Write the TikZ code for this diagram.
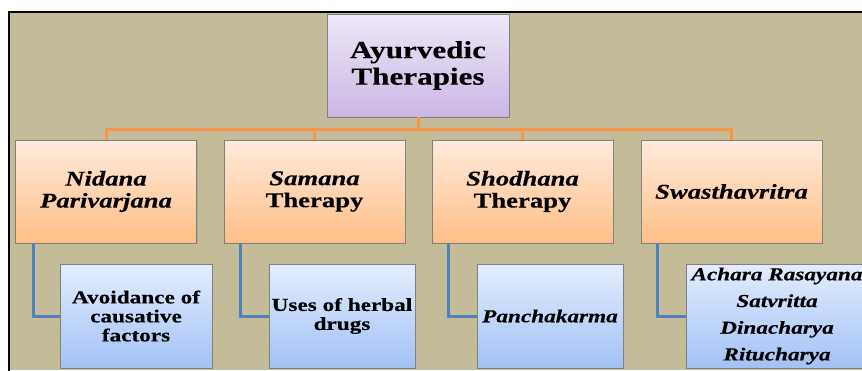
\documentclass[tikz,border=0pt]{standalone}
\usepackage{fontspec}
\setmainfont{Liberation Serif}[FakeStretch=1.27, FakeBold=0.3]
\usetikzlibrary{shadows}
\definecolor{bgtan}{RGB}{196,188,152}
\definecolor{lavtop}{RGB}{238,232,248}
\definecolor{lavbot}{RGB}{202,182,228}
\definecolor{peachtop}{RGB}{255,234,220}
\definecolor{peachbot}{RGB}{255,190,134}
\definecolor{bluetop}{RGB}{228,237,253}
\definecolor{bluebot}{RGB}{162,194,246}
\definecolor{orangeline}{RGB}{247,150,70}
\definecolor{blueline}{RGB}{79,129,189}
\tikzset{
  box/.style={draw=black!50, line width=0.9pt, inner sep=0pt, align=center,
    drop shadow={shadow xshift=1.2pt, shadow yshift=-1.2pt, opacity=0.35}},
  topbox/.style={box, top color=lavtop, bottom color=lavbot,
    minimum width=182pt, minimum height=103pt,
    font=\fontsize{24.5}{26.5}\selectfont\bfseries},
  lonebox/.style={box, top color=peachtop, bottom color=peachbot,
    minimum width=181pt, minimum height=103pt,
    font=\fontsize{21}{22}\selectfont\bfseries},
  ltwobox/.style={box, top color=bluetop, bottom color=bluebot,
    minimum height=104pt,
    font=\fontsize{18.3}{19}\selectfont\bfseries},
  orangeconn/.style={draw=orangeline, line width=3pt},
  blueconn/.style={draw=blueline, line width=3pt},
}
\begin{document}
\begin{tikzpicture}[x=1pt, y=-1pt]
\useasboundingbox (0,0) rectangle (862,370);
\clip (0,0) rectangle (862,370);
\fill[white] (0,0) rectangle (862,370);
\fill[bgtan] (9,12) rectangle (862,370);
\draw[line width=2pt, black] (9,371) -- (9,12) -- (862,12);

\node[topbox] (top) at (418,65.5) {Ayurvedic\\Therapies};

\node[lonebox] (n1) at (106,191.5) {\itshape Nidana\\\itshape Parivarjana};
\node[lonebox] (n2) at (314.5,191.5) {\itshape Samana\\Therapy};
\node[lonebox] (n3) at (522.5,191.5) {\itshape Shodhana\\Therapy};
\node[lonebox] (n4) at (731.5,191.5) {\itshape Swasthavritra};

\node[ltwobox, minimum width=152pt] (m1) at (136,316) {Avoidance of\\causative\\factors};
\node[ltwobox, minimum width=146pt] (m2) at (342,316) {Uses of herbal\\drugs};
\node[ltwobox, minimum width=146pt] (m3) at (550,316) {\itshape Panchakarma};
\node[ltwobox, minimum width=182pt, font=\fontsize{18.3}{26.7}\selectfont\bfseries\itshape] (m4) at (777,316) {Achara Rasayana\\Satvritta\\Dinacharya\\Ritucharya};

\foreach \n in {n1,n2,n3,n4}
  \draw[orangeconn] (top.south) -- ++(0,12) -| (\n.north);

\draw[blueconn] ([xshift=18pt]n1.south west) |- (m1.west);
\draw[blueconn] ([xshift=17pt]n2.south west) |- (m2.west);
\draw[blueconn] ([xshift=17pt]n3.south west) |- (m3.west);
\draw[blueconn] ([xshift=17pt]n4.south west) |- (m4.west);
\end{tikzpicture}
\end{document}
